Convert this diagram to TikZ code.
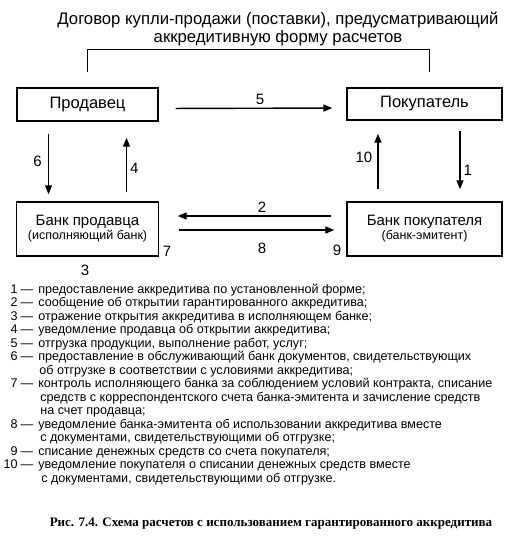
\documentclass[tikz,border=0pt]{standalone}
\usepackage{fontspec}
\setmainfont{Liberation Sans}
\newfontfamily\capfont{Liberation Serif}
\usetikzlibrary{arrows.meta}

\begin{document}
\begin{tikzpicture}[x=1pt, y=-1pt, line width=1.4pt,
    box/.style={draw, inner sep=0pt, align=center, font=\fontsize{15}{14}\selectfont},
    arr/.style={-{Triangle[length=9pt,width=7pt]}},
    lbl/.style={font=\fontsize{15}{17}\selectfont, inner sep=3pt}]
  \useasboundingbox (0,0) rectangle (509,547);

  \node[align=center, font=\fontsize{16.7}{18}\selectfont] (dogovor) at (278,29)
    {Договор купли-продажи (поставки), предусматривающий\\аккредитивную форму расчетов};

  \node[box, font=\fontsize{16.5}{18}\selectfont, minimum width=141pt, minimum height=33pt] (prod) at (87.5,104.5) {Продавец};
  \node[box, font=\fontsize{16.5}{18}\selectfont, minimum width=155pt, minimum height=32pt] (pok) at (424.5,104) {Покупатель};
  \node[box, minimum width=142pt, minimum height=54pt] (bprod) at (87.5,229)
    {Банк продавца\\{\fontsize{12.5}{14}\selectfont (исполняющий банк)}};
  \node[box, minimum width=155pt, minimum height=54pt] (bpok) at (424.5,229)
    {Банк покупателя\\{\fontsize{12.5}{14}\selectfont (банк-эмитент)}};

  % contract bracket
  \draw ([yshift=15pt]prod.north) -- ++(0,-23) -| ([xshift=5pt,yshift=15pt]pok.north);

  \draw[arr, shorten <=17pt, shorten >=14pt] ([yshift=-4pt]prod.east) -- node[lbl, above, pos=0.54] {5} ([yshift=-4pt]pok.west);
  \draw[arr, shorten <=12pt, shorten >=7pt] ([xshift=-39pt]prod.south) -- node[lbl, left=3pt] {6} ([xshift=-39pt]bprod.north);
  \draw[arr, shorten <=9pt, shorten >=16pt] ([xshift=39pt]bprod.north) -- node[lbl, right, pos=0.42] {4} ([xshift=39pt]prod.south);
  \draw[arr, shorten <=12pt, shorten >=13pt] ([xshift=-46.5pt]bpok.north) -- node[lbl, left=2pt, pos=0.54] {10} ([xshift=-46.5pt]pok.south);
  \draw[arr, shorten <=10pt, shorten >=12pt] ([xshift=35.5pt]pok.south) -- node[lbl, right, pos=0.61] {1} ([xshift=35.5pt]bpok.north);
  \draw[arr, shorten <=15pt, shorten >=18.5pt] ([yshift=13pt]bpok.west) -- node[lbl, above, pos=0.45] {2} ([yshift=13pt]bprod.east);
  \draw[arr, shorten <=19.5pt, shorten >=12pt] ([yshift=-1pt]bprod.east) -- node[lbl, below=9pt, pos=0.55] {8} ([yshift=-1pt]bpok.west);

  \node[lbl] (n7) at (167,251) {7};
  \node[lbl] (n9) at (337,250) {9};
  \node[lbl] (n3) at (85,270) {3};

  % legend
  \node[anchor=base west, inner sep=0pt, font=\fontsize{12.6}{13.5}\selectfont] (legend) at (3,293)
    {\begin{tabular}[t]{@{}r@{\hspace{3pt}}c@{\hspace{5pt}}l@{}}
      1 & — & предоставление аккредитива по установленной форме;\\
      2 & — & сообщение об открытии гарантированного аккредитива;\\
      3 & — & отражение открытия аккредитива в исполняющем банке;\\
      4 & — & уведомление продавца об открытии аккредитива;\\
      5 & — & отгрузка продукции, выполнение работ, услуг;\\
      6 & — & предоставление в обслуживающий банк документов, свидетельствующих\\
        &   & \hspace{1pt}об отгрузке в соответствии с условиями аккредитива;\\
      7 & — & контроль исполняющего банка за соблюдением условий контракта, списание\\
        &   & \hspace{2pt}средств с корреспондентского счета банка-эмитента и зачисление средств\\
        &   & \hspace{2pt}на счет продавца;\\
      8 & — & уведомление банка-эмитента об использовании аккредитива вместе\\
        &   & \hspace{2pt}с документами, свидетельствующими об отгрузке;\\
      9 & — & списание денежных средств со счета покупателя;\\
      10 & — & уведомление покупателя о списании денежных средств вместе\\
        &   & \hspace{3pt}с документами, свидетельствующими об отгрузке.
    \end{tabular}};

  \node[font=\capfont\bfseries\fontsize{13}{14}\selectfont] (caption) at (271,524)
    {Рис. 7.4. Схема расчетов с использованием гарантированного аккредитива};
\end{tikzpicture}
\end{document}
